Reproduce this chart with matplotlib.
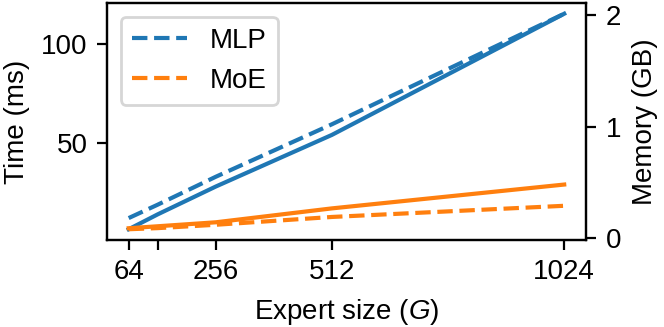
import matplotlib
matplotlib.use("Agg")
import matplotlib.pyplot as plt

plt.rcParams["font.family"] = ["Liberation Sans", "DejaVu Sans"]
plt.rcParams["mathtext.fontset"] = "custom"
plt.rcParams["mathtext.rm"] = "Liberation Sans"
plt.rcParams["mathtext.it"] = "Liberation Sans:italic"

BLUE = "#1f77b4"
ORANGE = "#ff7f0e"

expert_size = [64, 128, 256, 512, 1024]
tick_labels = ["64", "", "256", "512", "1024"]

# time in ms (solid, left axis)
time_mlp = [6.5, 14, 28, 54, 115]
time_moe = [7, 8, 10, 17, 29]

# memory in GB (dashed, right axis)
mem_mlp = [0.18, 0.30, 0.55, 1.02, 2.01]
mem_moe = [0.08, 0.09, 0.12, 0.19, 0.29]

fig = plt.figure(figsize=(3.32, 1.635), dpi=200)
ax = fig.add_axes([0.161, 0.266, 0.7215, 0.725])
ax2 = ax.twinx()

ax.plot(expert_size, time_mlp, color=BLUE, linestyle="-")
ax.plot(expert_size, time_moe, color=ORANGE, linestyle="-")
ax2.plot(expert_size, mem_mlp, color=BLUE, linestyle="--", label="MLP")
ax2.plot(expert_size, mem_moe, color=ORANGE, linestyle="--", label="MoE")

ax.set_xticks(expert_size)
ax.set_xticklabels(tick_labels)
ax.set_yticks([50, 100])
ax2.set_yticks([0, 1, 2])

ax.set_xlabel("Expert size ($G$)")
ax.set_ylabel("Time (ms)")
ax2.set_ylabel("Memory (GB)")

ax2.legend(loc="upper left")

fig.savefig("out.png", dpi=200)
